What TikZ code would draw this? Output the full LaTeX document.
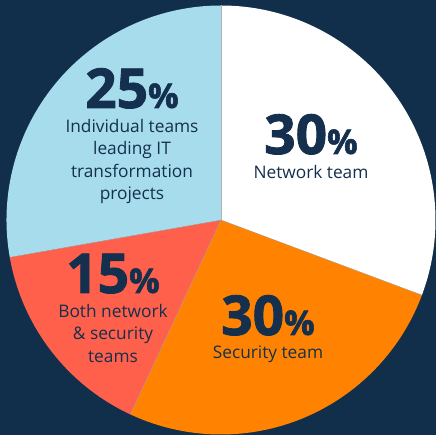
\documentclass[tikz,border=0pt]{standalone}
\usepackage{fontspec}
\setmainfont{Open Sans}
\usetikzlibrary{positioning}
\definecolor{navy}{HTML}{112E4B}
\definecolor{inkblue}{HTML}{14304E}
\definecolor{skyblue}{HTML}{A6DCEC}
\definecolor{tangerine}{HTML}{FF8300}
\definecolor{coral}{HTML}{FF604B}
\tikzset{
seam/.style={draw=black!30, line width=0.3pt},
pct/.style={inner sep=0, text=inkblue, font=\bfseries\addfontfeature{FakeBold=1.6}\fontsize{55}{55}\selectfont, anchor=base},
caption/.style={inner sep=0, text=inkblue, align=center, font=\fontsize{17.3}{22.6}\selectfont}}
\newcommand{\pcent}[1]{#1{\fontsize{34}{34}\selectfont\%}}

\begin{document}
\begin{tikzpicture}[x=1pt, y=1pt]
\fill[navy] (-221,-215) rectangle (215,220);
\useasboundingbox (-221,-215) rectangle (215,220);
\coordinate (o) at (0,0);
% pie slices
\foreach \a/\b/\c in {90/-20.5/white, -20.5/-115/tangerine, -115/-170/coral, -170/-270/skyblue}{
  \fill[\c] (o) -- (\a:214.5) arc[start angle=\a, end angle=\b, radius=214.5] -- cycle;
}
\foreach \a in {90, -20.5, -115, -170}{
  \draw[seam] (o) -- (\a:214.5);
}
% labels
\node[pct] (p25) at (-89,112) {\pcent{25}};
\node[caption, below=10pt of p25] (c25) {Individual teams\\leading IT\\transformation\\projects};
\node[pct] (p30n) at (90,66) {\pcent{30}};
\node[caption, below=10pt of p30n] (c30n) {Network team};
\node[pct] (p30s) at (47,-115) {\pcent{30}};
\node[caption, below=10pt of p30s] (c30s) {Security team};
\node[pct] (p15) at (-108,-73) {\pcent{15}};
\node[caption, below=10pt of p15] (c15) {Both network\\\& security\\teams};
\end{tikzpicture}
\end{document}
